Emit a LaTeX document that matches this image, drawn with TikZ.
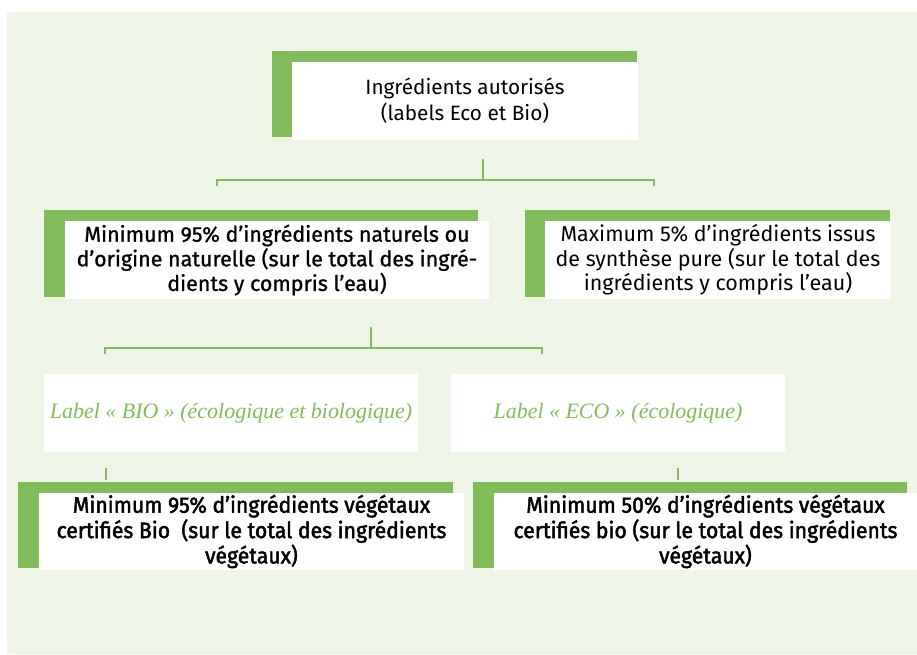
\documentclass[tikz,border=0pt]{standalone}
\usepackage{fontspec}
\newfontfamily\dinfont{Fira Sans}
\newfontfamily\medfont[FakeBold=1]{Fira Sans}
\newfontfamily\narrowfont[FakeStretch=0.95,FakeBold=2]{Fira Sans}
\newfontfamily\garafont{Liberation Serif}
\usetikzlibrary{backgrounds}
\definecolor{leaf}{HTML}{80BC5A}
\definecolor{pale}{HTML}{EEF4E6}
\tikzset{
  card/.style={fill=white, inner sep=0pt, align=center, text=black},
  tag/.style={card, text=leaf, font=\garafont\itshape\fontsize{12.5}{15}\selectfont},
  link/.style={draw=leaf, line width=0.055cm},
  stub/.style={draw=leaf, line width=0.04cm}
}
\begin{document}
\begin{tikzpicture}[x=0.02cm, y=-0.02cm]
	\useasboundingbox (0,0) rectangle (917,654);

	\node[card, minimum width=6.92cm, minimum height=1.56cm, font=\dinfont\fontsize{11.8}{14.8}\selectfont] (autorises) at (465,101) {Ingrédients autorisés\\(labels Eco et Bio)};

	\node[card, minimum width=8.48cm, minimum height=1.56cm, font=\medfont\fontsize{12.2}{14}\selectfont] (naturels) at (277,260) {Minimum 95\% d’ingrédients naturels ou\\d’origine naturelle (sur le total des ingré-\\dients y compris l’eau)};
	\node[card, minimum width=6.92cm, minimum height=1.56cm, font=\dinfont\fontsize{12.2}{14}\selectfont] (synthese) at (718,260) {Maximum 5\% d’ingrédients issus\\de synthèse pure (sur le total des\\ingrédients y compris l’eau)};

	\node[tag, minimum width=7.48cm, minimum height=1.56cm] (bio) at (231,413) {Label « BIO » (écologique et biologique)};
	\node[tag, minimum width=6.68cm, minimum height=1.56cm] (eco) at (618,413) {Label « ECO » (écologique)};

	\node[card, minimum width=8.5cm, minimum height=1.54cm, font=\narrowfont\fontsize{12.7}{13.4}\selectfont] (vegbio) at (251.5,531.5) {Minimum 95\% d’ingrédients végétaux\\certifiés Bio~ (sur le total des ingrédients\\végétaux)};
	\node[card, minimum width=8.46cm, minimum height=1.54cm, font=\narrowfont\fontsize{12.7}{13.4}\selectfont] (vegeco) at (705.5,531.5) {Minimum 50\% d’ingrédients végétaux\\certifiés bio (sur le total des ingrédients\\végétaux)};

	% panel and green frames behind the cards
	\begin{scope}[on background layer]
		\fill[pale] (7,12) rectangle (917,654);
		\fill[leaf] ([shift={(-20,-11)}]autorises.north west) rectangle ([shift={(-1,-3)}]autorises.south east);
		\fill[leaf] ([shift={(-21,-11)}]naturels.north west) rectangle ([shift={(-11,-2)}]naturels.south east);
		\fill[leaf] ([shift={(-20,-11)}]synthese.north west) rectangle ([shift={(-1,-2)}]synthese.south east);
		\fill[leaf] ([shift={(-21,-11)}]vegbio.north west) rectangle ([shift={(-11,-2)}]vegbio.south east);
		\fill[leaf] ([shift={(-21,-11)}]vegeco.north west) rectangle ([shift={(-10,-2)}]vegeco.south east);
	\end{scope}

	% brackets
	\coordinate (j1) at (483,180);
	\coordinate (j1l) at (217,186);
	\coordinate (j1r) at (654,186);
	\draw[link] ([yshift=-0.38cm]autorises.south -| j1) -- (j1);
	\draw[link] (j1l) |- (j1) -| (j1r);

	\coordinate (j2) at (371,348);
	\coordinate (j2l) at (105,354);
	\coordinate (j2r) at (542,354);
	\draw[link] ([yshift=-0.56cm]naturels.south -| j2) -- (j2);
	\draw[link] (j2l) |- (j2) -| (j2r);

	\coordinate (s1) at (106,480);
	\coordinate (s2) at (678,480);
	\draw[stub] ([yshift=-0.32cm]bio.south -| s1) -- (s1);
	\draw[stub] ([yshift=-0.32cm]eco.south -| s2) -- (s2);
\end{tikzpicture}
\end{document}
